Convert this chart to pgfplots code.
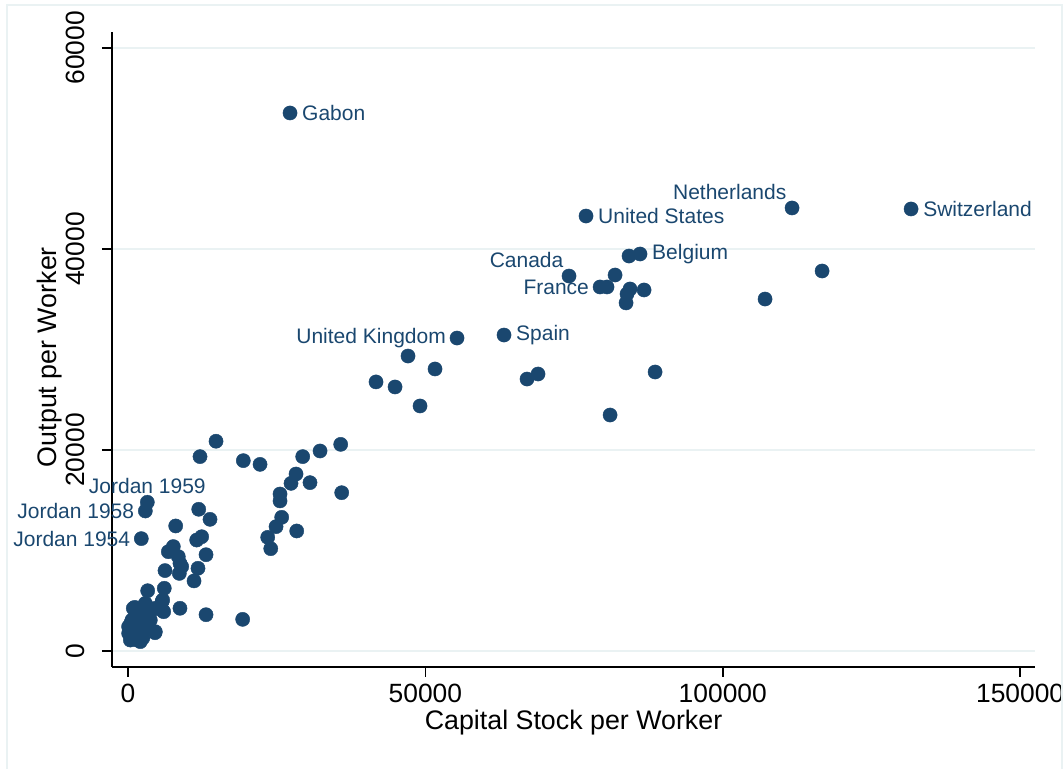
\documentclass[border=0pt]{standalone}
\usepackage{fontspec}
\setmainfont{Liberation Sans}
\usepackage{pgfplots}
\pgfplotsset{compat=1.18}
\definecolor{stnavy}{RGB}{26,71,111}
\definecolor{stgrid}{RGB}{234,242,243}
\definecolor{stframe}{RGB}{234,242,243}
\begin{document}
\begin{tikzpicture}
\begin{axis}[
  scale only axis,
  width=461.5pt, height=317.5pt,
  xmin=-2690, xmax=152500,
  ymin=-1592, ymax=61590,
  axis lines*=left,
  axis line style={black, line width=0.75pt},
  xtick={0,50000,100000,150000},
  ytick={0,20000,40000,60000},
  tick style={black, line width=0.75pt},
  major tick length=5pt,
  tick align=outside,
  ymajorgrids,
  grid style={stgrid, line width=1pt},
  /pgf/number format/assume math mode=true,
  /pgf/number format/fixed,
  /pgf/number format/precision=0,
  /pgf/number format/1000 sep={},
  scaled ticks=false,
  ticklabel style={font=\fontsize{13.2}{15}\selectfont, black},
  yticklabel style={rotate=90, anchor=south, inner ysep=8.2pt},
  xlabel={Capital Stock per Worker},
  ylabel={Output per Worker},
  xlabel style={font=\fontsize{13.4}{15}\selectfont, at={(rel axis cs:0.5,-0.0992)}, anchor=base},
  ylabel style={font=\fontsize{13.4}{15}\selectfont, at={(rel axis cs:-0.0596,0.488)}, anchor=base},
  clip=false,
  cycle list={{stnavy}},
  every axis plot/.append style={only marks, mark=*, mark size=3.55pt, mark options={fill=stnavy, draw=stnavy, line width=0.2pt}},
]
% unlabeled points
\addplot coordinates {
(84240,39300) (81890,37410) (80540,36220) (84410,36020) (83900,35520) (86770,35920)
(83740,34630) (107110,35020) (116700,37810) (47080,29350) (51620,28060) (41700,26770)
(44900,26270) (49100,24380) (67090,27060) (68940,27560) (88620,27760) (81050,23480)
(14800,20870) (12110,19340) (19390,18940) (22200,18570) (29370,19340) (32290,19900)
(35760,20560) (28250,17610) (27410,16680) (30600,16750) (35930,15750) (25560,15620)
(25560,14930) (25840,13300) (24890,12370) (28370,11940) (23490,11310) (24000,10180)
(11890,14100) (13790,13100) (8020,12440) (12390,11370) (11550,11040) (13120,9580)
(11770,8230) (11100,6970) (8740,4250) (13120,3610) (19280,3150) (7620,10390)
(6780,9880) (8460,9390) (9030,8390) (8630,7720) (8740,8720) (6220,8000)
(3310,6000) (6100,6240) (5830,5070) (5830,4010) (4540,1820) (890,4250)
(1120,4340) (2910,4740) (5720,4900) (6000,3910) (4590,4250) (2240,3750)
(670,3080) (3750,3080) (1230,2420) (4590,1920) (110,1760) (390,1090)
(2070,930) (2910,2260) (1790,2920) (100,2420) (3190,3580) (4040,4080)
(1500,1500) (800,2000) (2500,1300) (1800,3500) (3500,3800) (500,2800)
(1000,1800) (2000,2500) (1500,1100) (2600,3100)
};
% labels to the right
\addplot[point meta=explicit symbolic, nodes near coords,
  every node near coord/.append style={anchor=west, inner sep=0pt, xshift=6pt, font=\fontsize{10.5}{12}\selectfont, text=stnavy}]
coordinates {
(27240,53530) [Gabon]
(77010,43280) [United States]
(131660,43980) [Switzerland]
(86090,39500) [Belgium]
(63220,31440) [Spain]
};
% labels to the left
\addplot[point meta=explicit symbolic, nodes near coords,
  every node near coord/.append style={anchor=east, inner sep=0pt, xshift=-5.5pt, font=\fontsize{10.5}{12}\selectfont, text=stnavy}]
coordinates {
(55320,31140) [United Kingdom]
(79370,36220) [France]
(2910,13930) [Jordan 1958]
(2240,11180) [Jordan 1954]
};
% labels above left
\addplot[point meta=explicit symbolic, nodes near coords,
  every node near coord/.append style={anchor=south east, inner sep=0pt, xshift=-2.75pt, yshift=4pt, font=\fontsize{10.5}{12}\selectfont, text=stnavy}]
coordinates {
(74150,37310) [Canada]
(111650,44080) [Netherlands]
};
% label above
\addplot[point meta=explicit symbolic, nodes near coords,
  every node near coord/.append style={anchor=south, inner sep=0pt, yshift=4pt, font=\fontsize{10.5}{12}\selectfont, text=stnavy}]
coordinates {
(3250,14800) [Jordan 1959]
};
\end{axis}
\draw[stframe, line width=1pt] (-52.5pt,-60pt) -- (-52.5pt,331pt) -- (475pt,331pt) -- (475pt,-60pt);
\pgfresetboundingbox
\useasboundingbox (-56pt,-51pt) rectangle (476pt,333.5pt);
\end{tikzpicture}
\end{document}
